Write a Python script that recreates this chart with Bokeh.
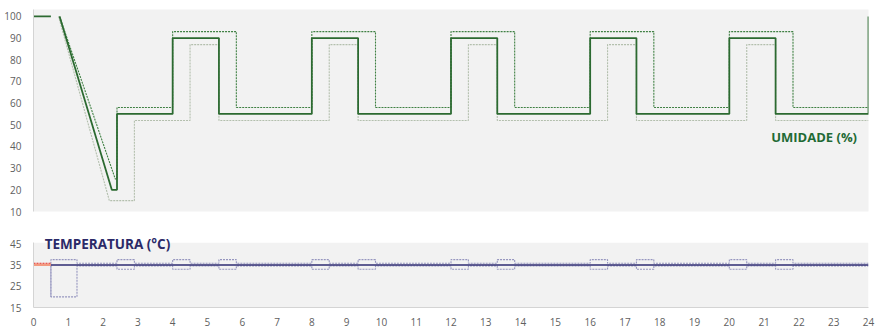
from bokeh.plotting import figure
from bokeh.models import Range1d, Label, FixedTicker, BoxAnnotation
from bokeh.layouts import column
from bokeh.embed import file_html
from bokeh.resources import INLINE

nan = float("nan")

# --- Umidade (%) ---------------------------------------------------------
# setpoint (solid), upper limit (dashed), lower limit (light dotted)
umid_set_horas = [0, 0.5, nan, 0.75, 2.25, 2.4, 2.4, 4, 4, 5.33, 5.33, 8, 8, 9.33, 9.33,
                  12, 12, 13.33, 13.33, 16, 16, 17.33, 17.33, 20, 20, 21.33, 21.33, 24, 24]
umid_set = [100, 100, nan, 100, 20, 20, 55, 55, 90, 90, 55, 55, 90, 90, 55,
            55, 90, 90, 55, 55, 90, 90, 55, 55, 90, 90, 55, 55, 100]

umid_max_horas = [0.75, 2.35, 2.4, 2.4, 4, 4, 5.83, 5.83, 8, 8, 9.83, 9.83, 12, 12, 13.83, 13.83,
                  16, 16, 17.83, 17.83, 20, 20, 21.83, 21.83, 24]
umid_max = [100, 25, 25, 58, 58, 93, 93, 58, 58, 93, 93, 58, 58, 93, 93, 58,
            58, 93, 93, 58, 58, 93, 93, 58, 58]

umid_min_horas = [0.72, 2.18, 2.9, 2.9, 4.5, 4.5, 5.33, 5.33, 8.5, 8.5, 9.33, 9.33, 12.5, 12.5,
                  13.33, 13.33, 16.5, 16.5, 17.33, 17.33, 20.5, 20.5, 21.33, 21.33, 24]
umid_min = [100, 15, 15, 52, 52, 87, 87, 52, 52, 87, 87, 52, 52, 87,
            87, 52, 52, 87, 87, 52, 52, 87, 87, 52, 52]

# --- Temperatura (°C) ----------------------------------------------------
temp_set_horas = [0.5, 24]
temp_set = [35, 35]
temp_ini_horas = [0, 0.5]
temp_ini = [35, 35]
temp_ini_max = [35.8, 35.8]

# transition windows, with the band limits reached inside each window
janelas = [(0.5, 1.25), (2.4, 2.9), (4, 4.5), (5.33, 5.83), (8, 8.5), (9.33, 9.83),
           (12, 12.5), (13.33, 13.83), (16, 16.5), (17.33, 17.83), (20, 20.5), (21.33, 21.83)]
temp_max_pico = [37.5, 37.5, 37.5, 37.5, 37.5, 37.5, 37.5, 37.5, 37.5, 37.5, 37.5, 37.5]
temp_min_pico = [20, 33, 33, 33, 33, 33, 33, 33, 33, 33, 33, 33]
temp_max_base = 35.8
temp_min_base = 34.5

umid_ticks = [10, 20, 30, 40, 50, 60, 70, 80, 90, 100]
temp_ticks = [15, 25, 35, 45]
hora_ticks = list(range(0, 25))

UMID_LIM = (10, 103.2)
TEMP_LIM = (15, 45.4)


def degraus(janelas, picos, base, x0, y0, fim=24):
    xs, ys = [x0], [y0]
    for (a, b), p in zip(janelas, picos):
        xs += [a, a, b, b]
        ys += [base, p, p, base]
    xs.append(fim)
    ys.append(base)
    return xs, ys


FONT = "Open Sans"
TICK_COLOR = "#606060"
AXIS_LINE = "#d4d4d4"
BG = "#f2f2f2"

x_range = Range1d(0, 24)


def estilo(p):
    p.background_fill_color = BG
    p.border_fill_color = "white"
    p.outline_line_color = None
    p.grid.visible = False
    for ax in p.axis:
        ax.major_tick_line_color = None
        ax.minor_tick_line_color = None
        ax.axis_line_color = AXIS_LINE
        ax.major_label_text_font = FONT
        ax.major_label_text_font_size = "10px"
        ax.major_label_text_color = TICK_COLOR
        ax.major_label_standoff = 6


# top panel: humidity
p1 = figure(width=879, height=225, x_range=x_range, y_range=Range1d(*UMID_LIM),
            output_backend="svg", toolbar_location=None,
            min_border_left=33, min_border_right=11, min_border_top=9, min_border_bottom=14)
estilo(p1)
p1.xaxis.visible = False
p1.yaxis.ticker = FixedTicker(ticks=umid_ticks)

p1.line(umid_min_horas, umid_min, line_color="#b3bfad", line_width=1.1, line_dash="2 1")
p1.line(umid_max_horas, umid_max, line_color="#3f8043", line_width=1.1, line_dash="2 1")
p1.line(umid_set_horas, umid_set, line_color="#2c6a31", line_width=1.8)

p1.add_layout(Label(x=23.67, y=44.2, text="UMIDADE (%)", text_align="right",
                    text_baseline="middle", text_font=FONT, text_font_style="bold",
                    text_font_size="13px", text_color="#1f6a35"))

# bottom panel: temperature; the frame reaches above the shaded band so the title fits
p2 = figure(width=879, height=103, x_range=x_range, y_range=Range1d(15, 51.2),
            output_backend="svg", toolbar_location=None,
            min_border_left=33, min_border_right=11, min_border_top=5, min_border_bottom=16)
estilo(p2)
p2.background_fill_color = "white"
p2.add_layout(BoxAnnotation(bottom=TEMP_LIM[0], top=TEMP_LIM[1], fill_color=BG, fill_alpha=1,
                            line_color=None, level="underlay"))
p2.yaxis.ticker = FixedTicker(ticks=temp_ticks)
p2.yaxis.bounds = TEMP_LIM
p2.xaxis.ticker = FixedTicker(ticks=hora_ticks)
p2.xaxis.major_label_standoff = 4

tx, ty = degraus(janelas, temp_max_pico, temp_max_base, 0.5, 20)
bx, by = degraus(janelas, temp_min_pico, temp_min_base, 0.5, temp_min_base)
p2.line(tx, ty, line_color="#9696bf", line_width=1.1, line_dash="2 1")
p2.line(bx, by, line_color="#9696bf", line_width=1.1, line_dash="2 1")
p2.line(temp_ini_horas, temp_ini, line_color="#f39a80", line_width=2.2)
p2.line(temp_ini_horas, temp_ini_max, line_color="#e5322a", line_width=1.2, line_dash="2 1")
p2.line(temp_set_horas, temp_set, line_color="#2e2b72", line_width=1.6)

p2.add_layout(Label(x=0.32, y=44.7, text="TEMPERATURA (°C)", text_align="left",
                    text_baseline="middle", text_font=FONT, text_font_style="bold",
                    text_font_size="13.5px", text_color="#2b2a68"))

layout = column(p1, p2, spacing=0)
open("out.html", "w").write(file_html(layout, INLINE))
